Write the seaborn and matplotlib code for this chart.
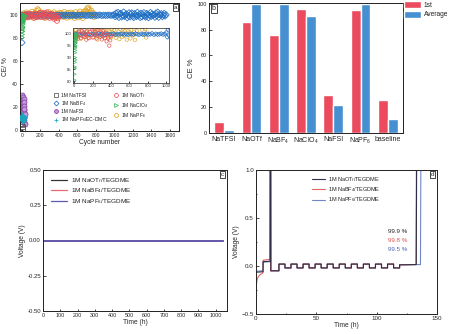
import numpy as np
import pandas as pd
import matplotlib
matplotlib.use("Agg")
import matplotlib.pyplot as plt
from matplotlib.lines import Line2D
from matplotlib.patches import Patch
import seaborn as sns

# ---------------- data ----------------
# (a) coulombic efficiency vs cycle number
tfsi_cycles = [1, 2, 3, 4]
tfsi_ce = [4.5, 1.5, 0.8, 2.5]

otf_start, otf_step = 0, 10
otf_ce = [99.5, 98.8, 100.4, 99.1, 97.9, 100.9, 99.6, 98.3, 101.2, 99.0,
          100.6, 98.6, 99.8, 97.5, 101.0, 99.3, 98.1, 100.7, 99.4, 101.8,
          98.4, 102.1, 99.7, 100.8, 98.0, 101.5, 99.2, 102.3, 98.7, 100.5,
          97.6, 101.1, 99.0, 98.2, 100.3, 96.8, 99.5, 98.5, 95.0, 97.2, 99.1]

bf4_early_cycles = [1, 2, 3]
bf4_early_ce = [76.0, 96.0, 98.5]
bf4_a_start, bf4_a_step = 5, 20
bf4_a_ce = [99.8, 99.7, 99.9, 99.6, 99.8, 100.0, 99.7, 99.9, 99.8, 99.6,
            99.9, 99.7, 99.8, 100.0, 99.7, 99.9, 99.6, 99.8, 99.9, 99.7,
            99.8, 100.0, 99.6, 99.9, 99.7, 99.8, 99.9, 99.7, 99.8, 99.6,
            99.9, 99.8, 99.7, 100.0, 99.8, 99.6, 99.9, 99.7, 99.8, 99.9,
            99.7, 99.8, 100.1, 99.6, 99.9, 99.7, 99.8, 100.0, 99.7, 99.9]
bf4_b_start, bf4_b_step = 1000, 10
bf4_b_ce = [100.5, 98.6, 101.8, 99.2, 102.3, 97.9, 100.9, 101.5, 98.3, 99.7,
            102.6, 98.9, 100.2, 101.1, 97.6, 99.5, 102.0, 98.4, 100.8, 101.9,
            99.0, 97.8, 101.3, 100.1, 98.7, 102.4, 99.4, 100.7, 97.9, 101.6,
            98.5, 100.3, 102.1, 99.1, 98.2, 101.4, 100.6, 97.7, 99.8, 102.2,
            98.8, 101.0, 99.6, 100.4, 98.1, 101.7, 99.3, 102.5, 98.0, 100.9,
            99.9, 101.2, 98.6, 100.0, 101.5, 99.2, 100.3]

fsi_cycles = list(range(1, 31))
fsi_ce = [28, 24, 30, 21, 27, 18, 25, 14, 29, 22, 12, 26, 19, 16, 23,
          9, 20, 13, 27, 17, 11, 24, 15, 7, 21, 10, 18, 6, 14, 5]

clo4_cycles = list(range(1, 26))
clo4_ce = [80.5, 83.0, 85.5, 88.0, 86.0, 90.0, 92.0, 89.0, 94.0, 93.0,
           95.0, 96.0, 94.5, 97.0, 98.0, 96.5, 99.0, 98.0, 99.5, 97.5,
           99.0, 98.5, 99.8, 99.2, 99.6]

pf6_start, pf6_step = 0, 10
pf6_ce = [100.2, 99.1, 101.5, 98.4, 100.8, 102.3, 99.6, 97.9, 101.2, 100.4,
          98.8, 102.9, 99.3, 100.9, 101.8, 98.2, 103.6, 105.1, 104.2, 99.8,
          101.4, 98.6, 100.3, 102.1, 99.0, 97.6, 101.7, 100.5, 98.9, 102.6,
          99.4, 100.1, 101.3, 98.1, 100.7, 102.4, 99.2, 97.8, 101.0, 100.6,
          98.5, 102.0, 99.7, 101.6, 100.0, 98.3, 102.7, 99.5, 100.9, 97.7,
          101.9, 100.2, 98.7, 102.2, 99.1, 101.1, 100.4, 97.5, 102.5, 99.8,
          100.6, 98.0, 101.4, 103.1, 99.3, 100.8, 97.4, 102.8, 101.2, 104.0,
          103.2, 105.8, 106.5, 104.6, 101.7, 103.9, 99.6, 102.0, 98.4, 100.5]

ecdmc_cycles = list(range(1, 21))
ecdmc_ce = [11.5, 9.0, 12.5, 8.5, 10.5, 13.0, 9.5, 11.0, 8.0, 12.0,
            10.0, 9.2, 11.8, 8.8, 10.8, 12.2, 9.6, 10.2, 8.4, 11.2]

# (b) first-cycle and average CE per salt
salts = ["NaTFSI", "NaOTf", "NaBF$_4$", "NaClO$_4$", "NaFSI", "NaPF$_6$", "baseline"]
ce_first = [8.8, 86.0, 76.0, 96.0, 29.6, 95.0, 25.5]
ce_average = [2.6, 100.0, 100.0, 90.5, 21.5, 100.0, 10.5]

# (c) long-term symmetric cell voltage
c_time = [0, 1040]
c_v_otf = [0.0, 0.0]
c_v_bf4 = [0.0, 0.0]
c_v_pf6 = [0.0, 0.0]

# (d) Na plating/stripping voltage profiles (vertex lists)
wave_t = [19, 24, 29, 34, 39, 44, 49, 54, 59, 64, 69, 74, 79, 84, 89, 94,
          99, 104, 109, 114, 119]
wave_v = [0.02, -0.02, 0.02, -0.02, 0.02, -0.02, 0.02, -0.02, 0.02, -0.02,
          0.02, -0.02, 0.02, -0.02, 0.02, -0.02, 0.02, -0.02, 0.02, -0.02, 0.012]

otf_head_t = [0, 5.8, 5.9, 11.7, 11.8, 12.2, 12.3]
otf_head_v = [-0.065, -0.06, 0.045, 0.05, 1.3, 1.3, -0.05]
otf_end_t = [132.8, 133.2]
otf_end_v = [0.015, 1.3]

bf4_head_t = [0, 0.3, 0.7, 1.2, 2.0, 3.0, 4.0, 5.0, 5.8, 5.9, 11.6, 11.7, 12.0, 12.1]
bf4_head_v = [-0.25, -0.20, -0.16, -0.13, -0.11, -0.095, -0.085, -0.078, -0.072,
              0.06, 0.07, 1.3, 1.3, -0.05]
bf4_end_t = [132.6, 133.0]
bf4_end_v = [0.015, 1.3]

pf6_head_t = [0, 5.8, 5.9, 11.8, 11.9, 12.3, 12.4]
pf6_head_v = [-0.055, -0.05, 0.04, 0.045, 1.3, 1.3, -0.05]
pf6_end_t = [136.3, 136.7]
pf6_end_v = [0.015, 1.3]

d_labels = ["99.9 %", "99.8 %", "99.5 %"]

# ---------------- style ----------------
sns.set_style("ticks")
plt.rcParams["font.family"] = ["Liberation Sans", "DejaVu Sans"]
plt.rcParams["mathtext.fontset"] = "custom"
plt.rcParams["mathtext.rm"] = "Liberation Sans"
plt.rcParams["mathtext.it"] = "Liberation Sans:italic"
plt.rcParams["axes.linewidth"] = 0.7
plt.rcParams["axes.edgecolor"] = "#222222"
plt.rcParams["xtick.direction"] = "in"
plt.rcParams["ytick.direction"] = "in"
plt.rcParams["xtick.major.size"] = 1.8
plt.rcParams["ytick.major.size"] = 1.8
plt.rcParams["xtick.minor.size"] = 1.0
plt.rcParams["ytick.minor.size"] = 1.0
plt.rcParams["xtick.major.width"] = 0.6
plt.rcParams["ytick.major.width"] = 0.6
plt.rcParams["xtick.major.pad"] = 1.5
plt.rcParams["ytick.major.pad"] = 1.5
plt.rcParams["text.color"] = "#222222"

W, H = 454, 334
fig = plt.figure(figsize=(W / 100, H / 100), dpi=100)


def box(l, r, t, b):
    return [l / W, 1 - b / H, (r - l) / W, (b - t) / H]


def panel_tag(ax, s, x, ha, fs=5):
    ax.text(x, 0.985, s, transform=ax.transAxes, ha=ha, va="top", fontsize=fs,
            bbox=dict(boxstyle="square,pad=0.15", fc="white", ec="#222222", lw=0.6),
            zorder=10)


COL = {
    "tfsi": "#555555", "otf": "#e8505a", "bf4": "#1f6fc4", "fsi": "#8a3fa8",
    "clo4": "#3cb45a", "pf6": "#e0a526", "ecdmc": "#1aa6c0",
}


def hollow(ax, x, y, marker, color, s=12, lw=0.55, face="none", z=2):
    sns.scatterplot(x=x, y=y, marker=marker, s=s, color=color, edgecolor=color,
                    linewidth=lw, ax=ax, legend=False, zorder=z)
    ax.collections[-1].set_facecolor(face)


def grid(start, step, n):
    return start + step * np.arange(n)


def draw_ce(ax, s, lw=0.55):
    hollow(ax, grid(pf6_start, pf6_step, len(pf6_ce)), pf6_ce, "o", COL["pf6"], s=s, lw=lw)
    hollow(ax, grid(bf4_a_start, bf4_a_step, len(bf4_a_ce)), bf4_a_ce, "D", COL["bf4"], s=s * 0.8, lw=lw)
    hollow(ax, grid(bf4_b_start, bf4_b_step, len(bf4_b_ce)), bf4_b_ce, "D", COL["bf4"], s=s * 0.8, lw=lw)
    hollow(ax, bf4_early_cycles, bf4_early_ce, "D", COL["bf4"], s=s * 0.8, lw=lw)
    hollow(ax, grid(otf_start, otf_step, len(otf_ce)), otf_ce, "o", COL["otf"], s=s, lw=lw)
    hollow(ax, clo4_cycles, clo4_ce, ">", COL["clo4"], s=s, lw=lw)
    hollow(ax, fsi_cycles, fsi_ce, "o", COL["fsi"], s=s, face="#c49ad8", lw=lw)
    hollow(ax, tfsi_cycles, tfsi_ce, "s", COL["tfsi"], s=s, lw=lw)
    sns.scatterplot(x=ecdmc_cycles, y=ecdmc_ce, marker="+", s=s * 1.2, color=COL["ecdmc"],
                    linewidth=lw + 0.05, ax=ax, legend=False, zorder=3)


# ---------------- (a) ----------------
ax_a = fig.add_axes(box(20, 179, 3, 131))
draw_ce(ax_a, 13)
ax_a.set_xlim(-20, 1700)
ax_a.set_ylim(-1, 110.5)
ax_a.set_xticks(range(0, 1601, 200))
ax_a.set_yticks(range(0, 101, 20))
ax_a.tick_params(labelsize=3.6)
ax_a.set_xlabel("Cycle number", fontsize=4.8, labelpad=1)
ax_a.set_ylabel("CE/ %", fontsize=4.8, labelpad=0.5)
panel_tag(ax_a, "a", 0.988, "right", fs=4.5)

mk = dict(linestyle="none", markersize=2.8, markeredgewidth=0.55)
handles = [
    Line2D([], [], marker="s", color=COL["tfsi"], mfc="none", **mk),
    Line2D([], [], marker="D", color=COL["bf4"], mfc="none", **dict(mk, markersize=2.5)),
    Line2D([], [], marker="o", color=COL["fsi"], mfc="#c49ad8", **mk),
    Line2D([], [], marker="+", color=COL["ecdmc"], **dict(mk, markersize=3.4)),
    Line2D([], [], marker="o", color=COL["otf"], mfc="none", **mk),
    Line2D([], [], marker=">", color=COL["clo4"], mfc="none", **mk),
    Line2D([], [], marker="o", color=COL["pf6"], mfc="none", **mk),
]
labels = ["1M NaTFSI", "1M NaBF$_4$", "1M NaFSI", "1M NaPF$_6$/EC-DMC",
          "1M NaOT$_f$", "1M NaClO$_4$", "1M NaPF$_6$"]
ax_a.legend(handles, labels, ncol=2, fontsize=3.6, frameon=False, loc="lower left",
            bbox_to_anchor=(0.19, 0.03), handletextpad=0.3, columnspacing=1.2,
            labelspacing=0.25, handlelength=1.2, borderaxespad=0.2)

ax_in = fig.add_axes(box(73, 169, 28, 83))
ax_in.set_facecolor("white")
ax_in.set_zorder(5)
draw_ce(ax_in, 6, lw=0.45)
ax_in.set_xlim(-15, 1030)
ax_in.set_ylim(79.3, 102.4)
ax_in.set_xticks(range(0, 1001, 200))
ax_in.set_yticks(range(80, 101, 5))
ax_in.tick_params(labelsize=3.0, length=1.2, pad=1)
for sp in ax_in.spines.values():
    sp.set_linewidth(0.5)

# ---------------- (b) ----------------
ax_b = fig.add_axes(box(209, 403, 3, 133))
df_b = pd.DataFrame({
    "salt": salts * 2,
    "kind": ["1st"] * len(salts) + ["Average"] * len(salts),
    "ce": ce_first + ce_average,
})
red, blue = "#ec4b5e", "#4690d2"
sns.barplot(data=df_b, x="salt", y="ce", hue="kind", palette=[red, blue],
            width=0.72, saturation=1, ax=ax_b, legend=False)
ax_b.set_xlim(-0.55, 6.55)
ax_b.set_ylim(0, 100.5)
ax_b.set_yticks(range(0, 101, 20))
ax_b.tick_params(axis="y", labelsize=4.0)
ax_b.tick_params(axis="x", labelsize=5.0, length=0, pad=2)
ax_b.set_xlabel("")
ax_b.set_ylabel("CE %", fontsize=5.5, labelpad=2)
panel_tag(ax_b, "b", 0.015, "left", fs=5)
ax_b.legend([Patch(fc=red), Patch(fc=blue)], ["1st", "Average"], fontsize=4.8,
            frameon=False, loc="upper left", bbox_to_anchor=(1.0, 1.02),
            handlelength=2.6, handleheight=1.3, handletextpad=0.4,
            labelspacing=0.25, borderaxespad=0.0, borderpad=0.1)

# ---------------- (c) ----------------
ax_c = fig.add_axes(box(43, 227, 170, 311))
c_cols = ["#333333", "#ee6a72", "#5b5ab0"]
for v, col in zip([c_v_otf, c_v_bf4, c_v_pf6], c_cols):
    sns.lineplot(x=c_time, y=v, color=col, linewidth=1.3, ax=ax_c, legend=False)
ax_c.set_xlim(0, 1065)
ax_c.set_ylim(-0.5, 0.5)
ax_c.set_xticks(range(0, 1001, 100))
ax_c.set_yticks([-0.5, -0.25, 0.0, 0.25, 0.5])
ax_c.set_yticklabels([f"{t:.2f}" for t in [-0.5, -0.25, 0.0, 0.25, 0.5]])
ax_c.tick_params(axis="x", labelsize=3.9)
ax_c.tick_params(axis="y", labelsize=4.3)
ax_c.set_xlabel("Time (h)", fontsize=4.8, labelpad=1)
ax_c.set_ylabel("Voltage (V)", fontsize=4.8, labelpad=1)
panel_tag(ax_c, "c", 0.985, "right", fs=4.5)
leg_lbls = ["1M NaOT$_f$/TEGDME", "1M NaBF$_4$/TEGDME", "1M NaPF$_6$/TEGDME"]
ax_c.legend([Line2D([], [], color=c, lw=0.9) for c in c_cols], leg_lbls,
            fontsize=4.6, frameon=False, loc="upper left", bbox_to_anchor=(0.01, 1.0),
            handlelength=2.6, handletextpad=0.6, labelspacing=0.3)

# ---------------- (d) ----------------
ax_d = fig.add_axes(box(256, 437, 170, 314))
d_cols = ["#2e2e48", "#e46464", "#6f86c8"]
curves = [
    (otf_head_t, otf_head_v, otf_end_t, otf_end_v),
    (bf4_head_t, bf4_head_v, bf4_end_t, bf4_end_v),
    (pf6_head_t, pf6_head_v, pf6_end_t, pf6_end_v),
]
for (ht, hv, et, ev), col in zip(curves[::-1], d_cols[::-1]):
    t = list(ht)
    v = list(hv)
    level = hv[-1]
    for wt, wv in zip(wave_t, wave_v):
        t += [wt, wt + 0.01]
        v += [level, wv]
        level = wv
    t += list(et)
    v += list(ev)
    sns.lineplot(x=t, y=v, sort=False, estimator=None, color=col, linewidth=0.8,
                 ax=ax_d, legend=False)
ax_d.set_xlim(0, 150)
ax_d.set_ylim(-0.5, 1.0)
ax_d.set_xticks([0, 50, 100, 150])
ax_d.set_xticks([25, 75, 125], minor=True)
ax_d.set_yticks([-0.5, 0.0, 0.5, 1.0])
ax_d.set_yticks([-0.25, 0.25, 0.75], minor=True)
ax_d.tick_params(labelsize=4.5)
ax_d.set_xlabel("Time (h)", fontsize=4.8, labelpad=1)
ax_d.set_ylabel("Voltage (V)", fontsize=4.8, labelpad=1)
panel_tag(ax_d, "d", 0.985, "right", fs=4.5)
ax_d.legend([Line2D([], [], color=c, lw=0.8) for c in d_cols], leg_lbls,
            fontsize=4.0, frameon=False, loc="upper left", bbox_to_anchor=(0.28, 1.0),
            handlelength=2.4, handletextpad=0.5, labelspacing=0.25)
for i, (s, col) in enumerate(zip(d_labels, ["#222222", "#e05050", "#4a64b4"])):
    ax_d.text(0.835, 0.57 - i * 0.06, s, transform=ax_d.transAxes, ha="right",
              va="center", fontsize=4.5, color=col)

fig.savefig("out.png", dpi=100)
